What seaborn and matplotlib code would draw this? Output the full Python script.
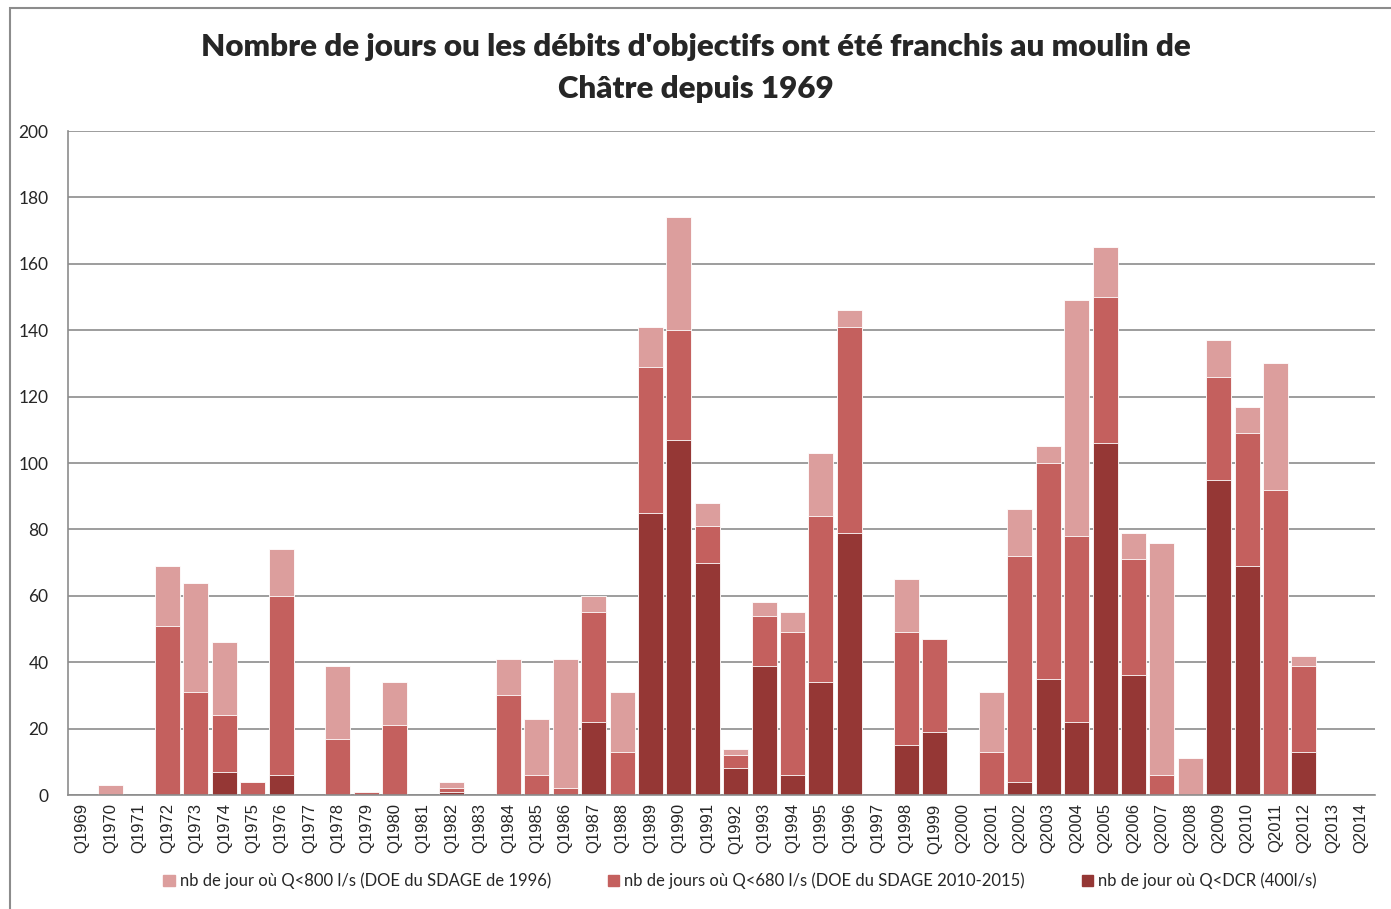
import numpy as np
import matplotlib
matplotlib.use("Agg")
import matplotlib.pyplot as plt
import matplotlib.patches as mpatches
import seaborn as sns

years = list(range(1969, 2015))
labels = ["Q{0}".format(y) for y in years]

# nb de jour ou Q<800 l/s
q800 = [0, 3, 0, 69, 64, 46, 4, 74, 0, 39, 1, 34, 0, 4, 0, 41, 23, 41, 60, 31,
        141, 174, 88, 14, 58, 55, 103, 146, 0, 65, 47, 0, 31, 86, 105, 149, 165,
        79, 76, 11, 137, 117, 130, 42, 0, 0]
# nb de jours ou Q<680 l/s
q680 = [0, 0, 0, 51, 31, 24, 4, 60, 0, 17, 1, 21, 0, 2, 0, 30, 6, 2, 55, 13,
        129, 140, 81, 12, 54, 49, 84, 141, 0, 49, 47, 0, 13, 72, 100, 78, 150,
        71, 6, 0, 126, 109, 92, 39, 0, 0]
# nb de jour ou Q<DCR (400 l/s)
qdcr = [0, 0, 0, 0, 0, 7, 0, 6, 0, 0, 0, 0, 0, 1, 0, 0, 0, 0, 22, 0,
        85, 107, 70, 8, 39, 6, 34, 79, 0, 15, 19, 0, 0, 4, 35, 22, 106,
        36, 0, 0, 95, 69, 0, 13, 0, 0]

series_names = ["nb de jour où Q<800 l/s (DOE du SDAGE de 1996)",
                "nb de jours où Q<680 l/s (DOE du SDAGE 2010-2015)",
                "nb de jour où Q<DCR (400l/s)"]
colors = ["#DC9E9D", "#C4605E", "#953735"]

sns.set_theme(style="white")
plt.rcParams['font.family'] = ['Lato', 'DejaVu Sans']

fig = plt.figure(figsize=(13.91, 9.09), dpi=100)
ax = fig.add_axes([68 / 1391, 1 - 795 / 909, (1375 - 68) / 1391, (795 - 131) / 909])

for vals, col in zip([q800, q680, qdcr], colors):
    sns.barplot(x=labels, y=vals, color=col, width=0.88, ax=ax,
                edgecolor="white", linewidth=0.6, saturation=1)

ax.set_ylim(0, 200)
ax.set_xlim(-0.5, len(labels) - 0.5)
ax.set_yticks(np.arange(0, 201, 20))
ax.yaxis.grid(True, color="#8c8c8c", linewidth=1.2)
ax.set_axisbelow(True)
for side in ["top", "right"]:
    ax.spines[side].set_visible(False)
for side in ["left", "bottom"]:
    ax.spines[side].set_color("#8c8c8c")
    ax.spines[side].set_linewidth(1.2)
ax.tick_params(axis="y", labelsize=12.5, pad=14, length=0)
ax.tick_params(axis="x", labelsize=12, rotation=90, length=0, pad=6)
for t in ax.get_xticklabels():
    t.set_fontfamily("Liberation Sans")

fig.suptitle("Nombre de jours ou les débits d'objectifs ont été franchis au moulin de\nChâtre depuis 1969",
             y=1 - 33 / 909, fontsize=22.5, fontweight="heavy", linespacing=1.6, va="top")

handles = [mpatches.Patch(color=c, label=n) for c, n in zip(colors, series_names)]
fig.legend(handles=handles, loc="center", bbox_to_anchor=(0.532, 1 - 881 / 909),
           ncol=3, frameon=False, fontsize=12, handlelength=0.7, handleheight=0.7,
           handletextpad=0.3, columnspacing=3.4)

fig.add_artist(mpatches.Rectangle((10 / 1391, -0.05), 1.1, 1 - 8 / 909 + 0.05,
                                  transform=fig.transFigure, fill=False,
                                  edgecolor="#8c8c8c", linewidth=1.5))

fig.savefig("out.png", dpi=100)
